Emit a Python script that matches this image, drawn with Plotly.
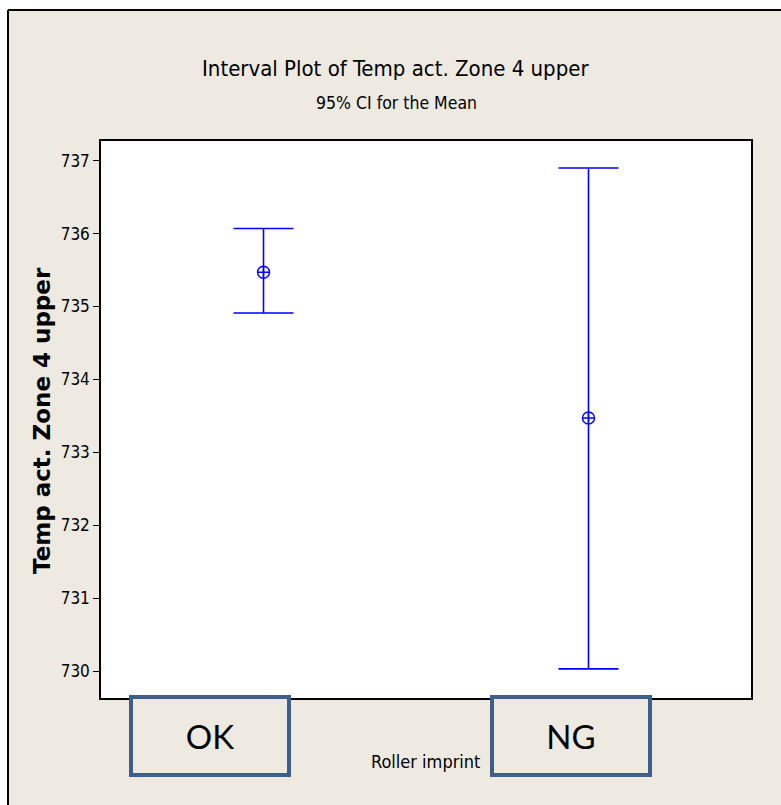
import plotly.graph_objects as go

# Interval plot: mean with 95% CI for each roller imprint group
groups = ["OK", "NG"]
group_pos = [0, 1]
means = [735.47, 733.47]
ci_upper = [736.07, 736.90]
ci_lower = [734.91, 730.03]

y_ticks = [730, 731, 732, 733, 734, 735, 736, 737]

W, H = 781, 805
L, R, T, B = 101, W - 751, 141, H - 698
PW, PH = W - L - R, H - T - B

def px(x):
    return (x - L) / PW

def py(y):
    return (H - B - y) / PH

BEIGE = "#EEEAE1"
BLUE = "#0000FF"
BOX = "#3E5F8A"
NARROW = "Liberation Sans Narrow, DejaVu Sans Condensed, Arial Narrow, sans-serif"

fig = go.Figure()
fig.add_trace(go.Scatter(
    x=group_pos,
    y=means,
    mode="markers",
    marker=dict(symbol="circle-cross-open", size=12, color=BLUE,
                line=dict(color=BLUE, width=1.4)),
    error_y=dict(
        type="data", symmetric=False,
        array=[u - m for u, m in zip(ci_upper, means)],
        arrayminus=[m - l for m, l in zip(means, ci_lower)],
        color=BLUE, thickness=1.6, width=30,
    ),
    showlegend=False,
    hoverinfo="skip",
))

shapes = [
    # white strips outside the framed window
    dict(type="rect", xref="paper", yref="paper", x0=px(-5), x1=px(W + 5),
         y0=py(10), y1=py(-5), fillcolor="white", line_width=0, layer="below"),
    dict(type="rect", xref="paper", yref="paper", x0=px(-5), x1=px(8),
         y0=py(H + 5), y1=py(-5), fillcolor="white", line_width=0, layer="below"),
    # window frame lines
    dict(type="line", xref="paper", yref="paper", x0=px(8), x1=px(W + 5),
         y0=py(10), y1=py(10), line=dict(color="black", width=2)),
    dict(type="line", xref="paper", yref="paper", x0=px(8), x1=px(8),
         y0=py(10), y1=py(H + 5), line=dict(color="black", width=2)),
]

annotations = [
    dict(text="Interval Plot of Temp act. Zone 4 upper", xref="paper", yref="paper",
         x=px(395), y=py(68), xanchor="center", yanchor="middle", showarrow=False,
         font=dict(family=NARROW, size=22, color="black")),
    dict(text="95% CI for the Mean", xref="paper", yref="paper",
         x=px(396), y=py(103), xanchor="center", yanchor="middle", showarrow=False,
         font=dict(family=NARROW, size=17.5, color="black")),
    dict(text="<b>Temp act. Zone 4 upper</b>", xref="paper", yref="paper",
         x=px(42), y=py(421), xanchor="center", yanchor="middle", showarrow=False,
         textangle=-90, font=dict(family="DejaVu Sans", size=23, color="black")),
    dict(text="Roller imprint", xref="paper", yref="paper",
         x=px(425), y=py(761), xanchor="center", yanchor="middle", showarrow=False,
         font=dict(family=NARROW, size=18, color="black")),
]

# category label boxes below the plot
box_centers = [209.5, 571]
for g, cx in zip(groups, box_centers):
    annotations.append(dict(
        text=g, xref="paper", yref="paper", x=px(cx), y=py(735.5),
        xanchor="center", yanchor="middle", showarrow=False,
        width=154, height=74, borderpad=0, borderwidth=4, bordercolor=BOX,
        bgcolor=BEIGE, font=dict(family="Lato, Carlito, sans-serif", size=33, color="black"),
    ))

fig.update_layout(
    width=W, height=H,
    margin=dict(l=L, r=R, t=T, b=B, pad=0),
    paper_bgcolor=BEIGE,
    plot_bgcolor="white",
    shapes=shapes,
    annotations=annotations,
    xaxis=dict(range=[-0.5, 1.5], showticklabels=False, ticks="", showgrid=False,
               zeroline=False, showline=True, mirror=True, linecolor="black",
               linewidth=1.5),
    yaxis=dict(range=[729.63, 737.27], tickvals=y_ticks, ticks="outside",
               ticklen=6, tickcolor="black", showgrid=False, zeroline=False,
               showline=True, mirror=True, linecolor="black", linewidth=1.5,
               tickfont=dict(family=NARROW, size=17, color="black")),
)

fig.write_html("out.html")
